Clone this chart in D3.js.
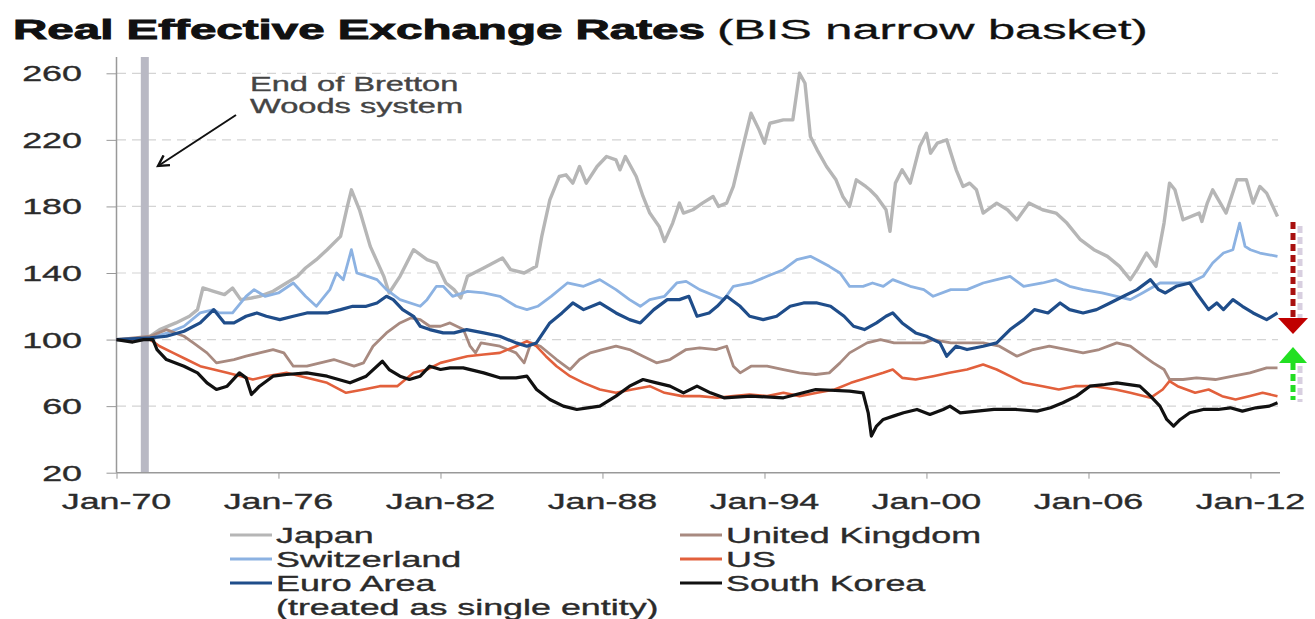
<!DOCTYPE html>
<html lang="en">
<head>
<meta charset="UTF-8">
<title>Real Effective Exchange Rates</title>
<script src="https://d3js.org/d3.v7.min.js"></script>
<style>
body { margin: 0; background: #fff; }
text { font-family: "Liberation Sans", Arial, sans-serif; }
</style>
</head>
<body>
<script>
// index values, [decimal year, value], Jan-70 = 100
var japan = [[1970,100],[1971,100],[1971.25,102],[1971.6,106],[1972.2,110],[1972.7,114],[1973,118],[1973.2,131],[1973.6,129],[1974,127],[1974.3,131],[1974.6,124],[1975,125],[1975.3,126],[1975.8,129],[1976.3,134],[1976.7,138],[1977,143],[1977.4,148],[1977.8,154],[1978.3,162],[1978.55,180],[1978.7,190],[1979,178],[1979.4,156],[1979.9,138],[1980.1,128],[1980.5,138],[1981,154],[1981.5,148],[1981.85,146],[1982.2,134],[1982.5,130],[1982.75,125],[1983,138],[1983.6,143],[1984.3,149],[1984.6,142],[1985.1,140],[1985.55,144],[1985.75,162],[1986.05,184],[1986.4,198],[1986.65,199],[1986.9,194],[1987.15,204],[1987.4,194],[1987.8,204],[1988.15,210],[1988.5,208],[1988.65,202],[1988.85,210],[1989.25,198],[1989.5,186],[1989.75,176],[1990.1,168],[1990.3,159],[1990.6,170],[1990.85,182],[1991,176],[1991.35,178],[1991.7,182],[1992.1,186],[1992.3,180],[1992.6,182],[1992.85,192],[1993.2,216],[1993.5,236],[1993.8,226],[1994,218],[1994.2,230],[1994.7,232],[1995.05,232],[1995.3,260],[1995.5,254],[1995.7,222],[1995.95,214],[1996.3,204],[1996.65,196],[1996.9,186],[1997.15,180],[1997.4,196],[1997.75,192],[1997.9,190],[1998.15,186],[1998.5,178],[1998.65,165],[1998.85,194],[1999.1,202],[1999.4,194],[1999.75,216],[2000,224],[2000.15,212],[2000.4,218],[2000.75,220],[2001.1,202],[2001.35,192],[2001.6,194],[2001.85,190],[2002.1,176],[2002.6,182],[2003,178],[2003.35,172],[2003.8,182],[2004.3,178],[2004.8,176],[2005.2,170],[2005.7,160],[2006.2,154],[2006.7,150],[2007.15,144],[2007.55,136],[2007.8,142],[2008.15,152],[2008.5,144],[2008.8,170],[2009,194],[2009.2,190],[2009.5,172],[2010.1,176],[2010.2,171],[2010.4,182],[2010.6,190],[2011.1,176],[2011.5,196],[2011.85,196],[2012.1,182],[2012.35,192],[2012.6,188],[2013,174]];

var switzerland = [[1970,100],[1971.25,101],[1971.9,104],[1972.5,108],[1973.1,116],[1973.6,118],[1973.8,116],[1974.3,116],[1974.8,126],[1975.1,130],[1975.5,126],[1976,128],[1976.55,134],[1977,126],[1977.4,120],[1977.9,130],[1978.15,140],[1978.4,136],[1978.7,154],[1978.9,140],[1979.3,138],[1979.65,136],[1980,130],[1980.5,124],[1981.25,120],[1981.5,124],[1981.85,132],[1982.1,132],[1982.45,126],[1983,129],[1983.6,128],[1984.2,126],[1984.8,120],[1985.2,118],[1985.6,120],[1986.1,126],[1986.7,134],[1987.3,132],[1987.9,136],[1988.5,130],[1989,124],[1989.4,120],[1989.75,124],[1990.3,126],[1990.75,134],[1991.1,135],[1991.6,130],[1992.2,126],[1992.5,124],[1992.85,132],[1993.5,134],[1994.1,138],[1994.7,142],[1995.2,148],[1995.7,150],[1995.95,148],[1996.4,144],[1996.8,140],[1997.15,132],[1997.65,132],[1998,134],[1998.4,132],[1998.75,136],[1999.4,132],[1999.9,130],[2000.25,126],[2000.9,130],[2001.5,130],[2002.1,134],[2002.6,136],[2003.1,138],[2003.6,132],[2004.3,134],[2004.8,136],[2005.3,132],[2005.8,130],[2006.5,128],[2007.05,126],[2007.55,124],[2008,128],[2008.65,134],[2009.3,134],[2009.75,134],[2010.25,138],[2010.6,146],[2011,152],[2011.35,154],[2011.6,170],[2011.8,156],[2012,154],[2012.35,152],[2013,150]];

var euroArea = [[1970,100],[1971.25,101],[1971.85,102],[1972.5,105],[1973.1,110],[1973.6,118],[1973.7,116],[1974,110],[1974.35,110],[1974.8,114],[1975.2,116],[1975.55,114],[1976.05,112],[1976.55,114],[1977.05,116],[1977.8,116],[1978.3,118],[1978.75,120],[1979.25,120],[1979.65,122],[1980,126],[1980.25,124],[1980.6,118],[1981,114],[1981.25,108],[1981.6,106],[1982.1,104],[1982.5,104],[1982.97,106],[1983.6,104],[1984.2,102],[1984.8,98],[1985.2,96],[1985.55,98],[1986.05,110],[1986.5,116],[1986.9,122],[1987.3,118],[1987.9,122],[1988.5,116],[1989,112],[1989.4,110],[1989.9,118],[1990.4,124],[1990.85,124],[1991.2,126],[1991.5,114],[1991.95,116],[1992.25,120],[1992.6,126],[1993.1,120],[1993.45,114],[1993.95,112],[1994.45,114],[1994.95,120],[1995.45,122],[1995.95,122],[1996.45,120],[1996.95,114],[1997.3,108],[1997.7,106],[1998.15,110],[1998.5,114],[1998.75,116],[1999.1,110],[1999.6,104],[2000,102],[2000.5,98],[2000.75,90],[2001.1,96],[2001.5,94],[2002.1,96],[2002.6,98],[2003.1,106],[2003.6,112],[2004,118],[2004.5,116],[2004.95,122],[2005.3,118],[2005.8,116],[2006.3,118],[2006.8,122],[2007.3,126],[2007.8,130],[2008.3,136],[2008.6,130],[2008.85,128],[2009.25,132],[2009.75,134],[2010,128],[2010.45,118],[2010.75,122],[2011,118],[2011.35,124],[2011.7,120],[2012.1,116],[2012.6,112],[2013,116]];

var unitedKingdom = [[1970,100],[1971.25,102],[1971.85,106],[1972.5,102],[1972.85,98],[1973.35,92],[1973.7,86],[1974.35,88],[1974.8,90],[1975.3,92],[1975.8,94],[1976.2,92],[1976.55,84],[1977.05,84],[1978.05,88],[1978.8,84],[1979.15,86],[1979.5,96],[1980,104],[1980.5,110],[1980.9,113],[1981.25,112],[1981.6,108],[1982,108],[1982.35,110],[1982.85,106],[1983.1,96],[1983.3,92],[1983.5,98],[1984.2,96],[1984.8,92],[1985.1,86],[1985.35,98],[1985.7,96],[1986.3,88],[1986.8,82],[1987.15,88],[1987.55,92],[1988,94],[1988.5,96],[1989,94],[1989.5,90],[1990,86],[1990.5,88],[1991.1,94],[1991.6,95],[1992.2,94],[1992.6,96],[1992.85,84],[1993.1,80],[1993.5,84],[1994.1,84],[1994.7,82],[1995.3,80],[1995.9,79],[1996.4,80],[1996.8,86],[1997.15,92],[1997.8,98],[1998.3,100],[1998.8,98],[1999.4,98],[1999.9,98],[2000.25,100],[2000.9,98],[2001.5,98],[2002.1,98],[2002.7,96],[2003.35,90],[2003.95,94],[2004.55,96],[2005.2,94],[2005.8,92],[2006.4,94],[2007.05,98],[2007.55,96],[2008.05,90],[2008.4,86],[2008.8,82],[2009,76],[2009.5,76],[2010,77],[2010.7,76],[2011.35,78],[2011.98,80],[2012.6,83],[2013,83]];

var us = [[1970,100],[1971.25,100],[1971.6,96],[1972.1,92],[1972.6,88],[1973.1,84],[1973.6,82],[1974.1,80],[1974.6,78],[1975.05,76],[1975.55,78],[1976.3,80],[1977.05,77],[1977.8,74],[1978.5,68],[1979.15,70],[1979.75,72],[1980.4,72],[1981,80],[1981.5,82],[1982,86],[1982.5,88],[1983,90],[1983.6,91],[1984.2,92],[1984.8,96],[1985.2,99],[1985.55,96],[1985.9,90],[1986.3,84],[1986.8,78],[1987.3,74],[1987.9,70],[1988.5,68],[1989.1,70],[1989.75,72],[1990.3,68],[1990.95,66],[1991.6,66],[1992.25,65],[1992.85,66],[1993.45,67],[1994.1,66],[1994.7,68],[1995.3,66],[1995.95,68],[1996.6,70],[1997.2,74],[1997.8,77],[1998.4,80],[1998.75,82],[1999.1,77],[1999.6,76],[2000.25,78],[2000.85,80],[2001.5,82],[2002.1,85],[2002.6,82],[2003.1,78],[2003.6,74],[2004.3,72],[2004.9,70],[2005.5,72],[2006.2,72],[2007,70],[2007.55,68],[2008.3,65],[2008.75,70],[2009,75],[2009.3,72],[2009.95,68],[2010.45,70],[2010.95,66],[2011.45,64],[2011.95,66],[2012.45,68],[2013,66]];

var southKorea = [[1970,100],[1970.6,98.5],[1971,100],[1971.35,100],[1971.5,94],[1971.85,88],[1972.5,84],[1973,80],[1973.35,74],[1973.7,70],[1974.1,72],[1974.55,80],[1974.8,77],[1975,67],[1975.3,72],[1975.8,78],[1976.3,79],[1977.05,80],[1977.8,78],[1978.65,74],[1979.25,78],[1979.85,87],[1980.1,82],[1980.5,78],[1980.85,76],[1981.25,78],[1981.6,84],[1982,82],[1982.35,83],[1982.84,83],[1983.6,80],[1984.2,77],[1984.8,77],[1985.2,78],[1985.56,70],[1986.05,64],[1986.55,60],[1987.05,58],[1987.45,59],[1987.9,60],[1988.5,66],[1989,72],[1989.5,76],[1990,74],[1990.5,72],[1991,68],[1991.5,72],[1992,68],[1992.5,65],[1993.5,66],[1994.7,65],[1995.9,70],[1997.15,69],[1997.65,68],[1997.84,56],[1997.96,42],[1998.15,48],[1998.4,52],[1998.77,54],[1999.15,56],[1999.65,58],[2000.13,55],[2000.62,58],[2000.87,60],[2001.25,56],[2002.5,58],[2003.3,58],[2004.1,57],[2004.6,59],[2005.05,62],[2005.55,66],[2006.05,72],[2006.6,73],[2007.05,74],[2007.9,72],[2008.3,66],[2008.65,60],[2008.9,52],[2009.15,48],[2009.4,52],[2009.75,56],[2010.25,58],[2010.8,58],[2011.25,59],[2011.7,57],[2012.2,59],[2012.7,60],[2013,62]];

var yTicks = [20, 60, 100, 140, 180, 220, 260];
var xTickYears = [1970, 1976, 1982, 1988, 1994, 2000, 2006, 2012];
var brettonWoodsEnd = 1971.05;

var width = 1315, height = 619;
var SX = 1.63; // the source picture is stretched sideways, so is its text

function toDate(y) {
  var yr = Math.floor(y);
  return new Date(yr, 0, 1 + Math.round((y - yr) * 365));
}

var x = d3.scaleTime()
  .domain([new Date(1970, 0, 1), new Date(2013, 0, 1)])
  .range([116.5, 1277.5]);
var y = d3.scaleLinear()
  .domain([20, 260])
  .range([472.7, 73.3]);

var svg = d3.select("body").append("svg")
  .attr("width", width)
  .attr("height", height);

function stretched(g, px, py, str, size, fill, anchor) {
  return g.append("text")
    .attr("transform", "translate(" + px + "," + py + ") scale(" + SX + ",1)")
    .attr("text-anchor", anchor || "start")
    .style("font-size", size + "px")
    .style("fill", fill || "#2b2b2b")
    .style("stroke", fill || "#2b2b2b")
    .style("stroke-width", 0.35)
    .text(str);
}

// title, each part squeezed to the width it has in the picture
function titlePart(str, weight, left, w, sw) {
  var t = svg.append("text")
    .style("font-size", "28px")
    .style("font-weight", weight)
    .style("fill", "#111")
    .style("stroke", "#111")
    .style("stroke-width", sw)
    .text(str);
  var sx = w / t.node().getComputedTextLength();
  t.attr("transform", "translate(" + left + ",39) scale(" + sx + ",1)");
}
titlePart("Real Effective Exchange Rates", "bold", 13, 692, 0.9);
titlePart("(BIS narrow basket)", "normal", 717, 431, 0.3);

// gridlines
svg.append("g").selectAll("line")
  .data(yTicks.slice(1))
  .enter().append("line")
  .attr("x1", 117).attr("x2", 1278)
  .attr("y1", function(d) { return y(d); })
  .attr("y2", function(d) { return y(d); })
  .style("stroke", "#d4d4d4")
  .style("stroke-width", 1.2)
  .style("stroke-dasharray", "9,6");

// Bretton Woods bar
svg.append("rect")
  .attr("x", x(toDate(brettonWoodsEnd)) - 4)
  .attr("y", 57)
  .attr("width", 8)
  .attr("height", 472.7 - 57)
  .style("fill", "#b9b9c4");

// axes: tick marks from d3.axis, labels drawn stretched like the rest of the text
var yAxis = svg.append("g")
  .attr("transform", "translate(116.5,0)")
  .call(d3.axisLeft(y).tickValues(yTicks).tickSize(10).tickFormat(""));
yAxis.select(".domain").remove();
yAxis.selectAll("line").style("stroke", "#999");
var yLabels = svg.append("g");
yTicks.forEach(function(d) {
  stretched(yLabels, 82, y(d) + 8, String(d), 22, null, "end");
});

svg.append("line")
  .attr("x1", 116.5).attr("x2", 116.5)
  .attr("y1", 57).attr("y2", 472.7)
  .style("stroke", "#999").style("stroke-width", 1.5);

var tickDates = xTickYears.map(function(d) { return new Date(d, 0, 1); });
var xAxis = svg.append("g")
  .attr("transform", "translate(0,472.7)")
  .call(d3.axisBottom(x).tickValues(tickDates).tickSize(6).tickFormat(""));
xAxis.select(".domain").remove();
xAxis.selectAll("line").style("stroke", "#999");
var fmt = d3.timeFormat("%b-%y");
var xLabels = svg.append("g");
tickDates.forEach(function(d) {
  stretched(xLabels, x(d), 509, fmt(d), 22, null, "middle");
});

svg.append("line")
  .attr("x1", 116.5).attr("x2", 1280)
  .attr("y1", 472.7).attr("y2", 472.7)
  .style("stroke", "#999").style("stroke-width", 1.5);

// series
var series = [
  { name: "Japan", values: japan, color: "#b6b6b6", w: 3.4 },
  { name: "Switzerland", values: switzerland, color: "#8cb2e2", w: 2.8 },
  { name: "United Kingdom", values: unitedKingdom, color: "#a88a80", w: 2.8 },
  { name: "US", values: us, color: "#e2603c", w: 2.6 },
  { name: "Euro Area", values: euroArea, color: "#1f4d8a", w: 3.2 },
  { name: "South Korea", values: southKorea, color: "#111111", w: 3.2 }
];

var line = d3.line()
  .x(function(d) { return x(toDate(d[0])); })
  .y(function(d) { return y(d[1]); });

svg.append("g").selectAll("path")
  .data(series)
  .enter().append("path")
  .attr("d", function(d) { return line(d.values); })
  .style("fill", "none")
  .style("stroke", function(d) { return d.color; })
  .style("stroke-width", function(d) { return d.w; })
  .style("stroke-linejoin", "round");

// annotation
svg.append("defs").append("marker")
  .attr("id", "head")
  .attr("viewBox", "0 0 12 12")
  .attr("refX", 10).attr("refY", 6)
  .attr("markerWidth", 7).attr("markerHeight", 7)
  .attr("orient", "auto")
  .append("path")
  .attr("d", "M1,1 L10,6 L1,11")
  .style("fill", "none")
  .style("stroke", "#111")
  .style("stroke-width", 2);

svg.append("line")
  .attr("x1", 236).attr("y1", 115)
  .attr("x2", 158).attr("y2", 166)
  .style("stroke", "#111")
  .style("stroke-width", 2)
  .attr("marker-end", "url(#head)");

stretched(svg, 250, 91, "End of Bretton", 20, "#444");
stretched(svg, 250, 113, "Woods system", 20, "#444");

// direction arrows at the right edge
var arrows = svg.append("g");
arrows.append("line")
  .attr("x1", 1300).attr("x2", 1300).attr("y1", 226).attr("y2", 322)
  .style("stroke", "#d8cfe0").style("stroke-width", 5).style("stroke-dasharray", "7,4");
arrows.append("line")
  .attr("x1", 1293).attr("x2", 1293).attr("y1", 222).attr("y2", 318)
  .style("stroke", "#a81010").style("stroke-width", 5).style("stroke-dasharray", "7,4");
arrows.append("path")
  .attr("d", "M1278,318 L1308,318 L1293,334 Z")
  .style("fill", "#c00000");
arrows.append("line")
  .attr("x1", 1300).attr("x2", 1300).attr("y1", 366).attr("y2", 402)
  .style("stroke", "#d8cfe0").style("stroke-width", 5).style("stroke-dasharray", "7,4");
arrows.append("line")
  .attr("x1", 1293).attr("x2", 1293).attr("y1", 363).attr("y2", 400)
  .style("stroke", "#22dd22").style("stroke-width", 5).style("stroke-dasharray", "7,4");
arrows.append("path")
  .attr("d", "M1279,363 L1307,363 L1293,347 Z")
  .style("fill", "#22e022");

// legend
var legendItems = [
  { name: "Japan", col: 0, row: 0 },
  { name: "Switzerland", col: 0, row: 1 },
  { name: "Euro Area", col: 0, row: 2 },
  { name: "United Kingdom", col: 1, row: 0 },
  { name: "US", col: 1, row: 1 },
  { name: "South Korea", col: 1, row: 2 }
];
var colX = [230, 680];
var legend = svg.append("g");
legendItems.forEach(function(it) {
  var s = series.find(function(d) { return d.name === it.name; });
  var cy = 535 + it.row * 24;
  legend.append("line")
    .attr("x1", colX[it.col]).attr("x2", colX[it.col] + 42)
    .attr("y1", cy).attr("y2", cy)
    .style("stroke", s.color)
    .style("stroke-width", 3);
  stretched(legend, colX[it.col] + 46, cy + 8, it.name, 22);
});
stretched(legend, colX[0] + 46, 535 + 3 * 24 + 8, "(treated as single entity)", 22);
</script>
</body>
</html>
